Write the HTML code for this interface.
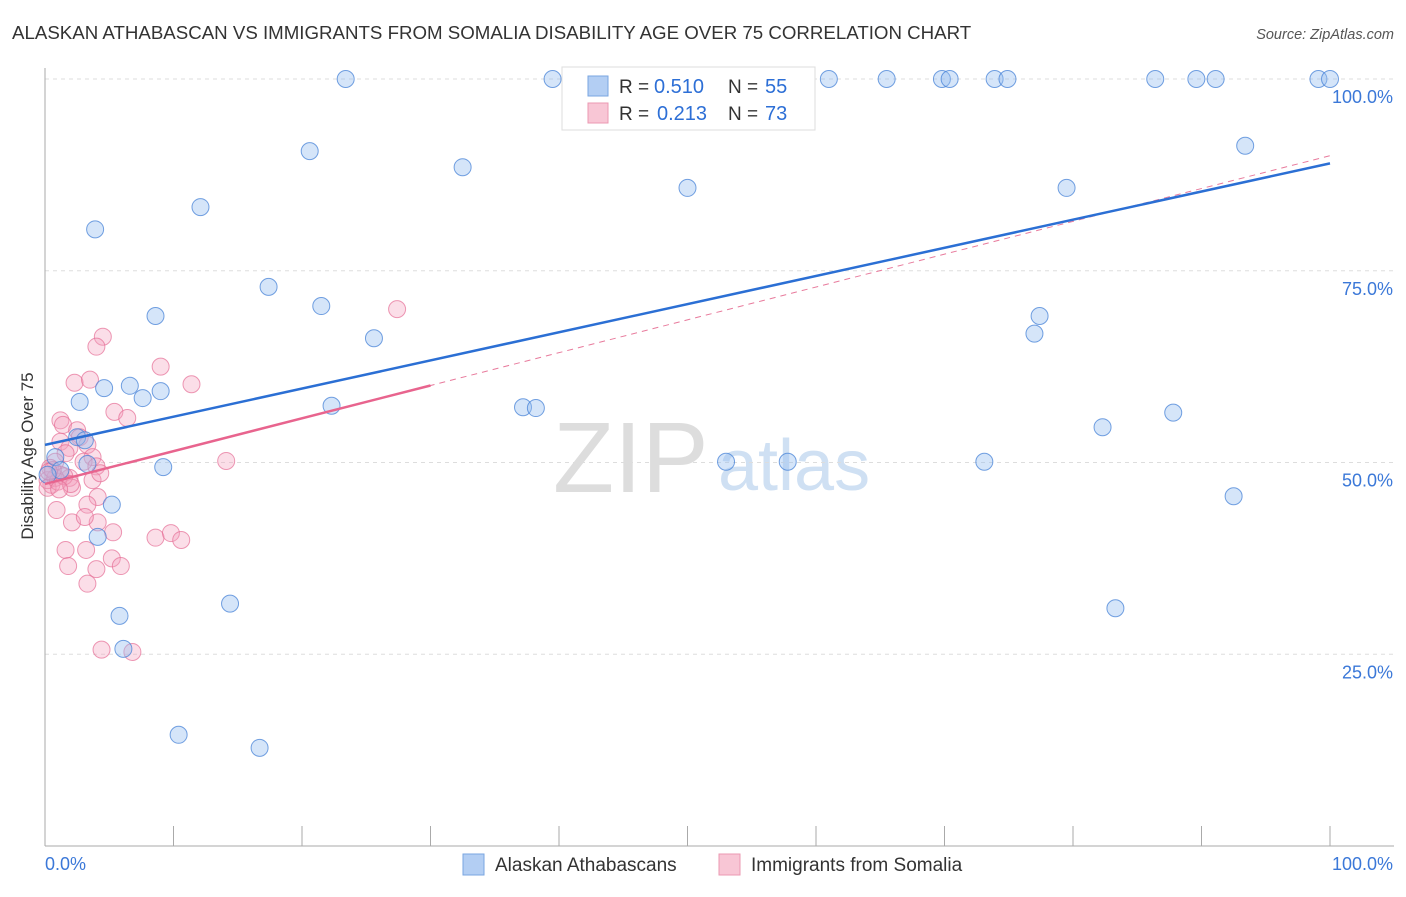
<!DOCTYPE html>
<html><head><meta charset="utf-8"><style>
body{margin:0;background:#fff;font-family:"Liberation Sans",sans-serif;}
svg text{font-family:"Liberation Sans",sans-serif;}
</style></head><body>
<svg id="c" width="1406" height="892">
<text x="12" y="39" font-size="18.7" fill="#333">ALASKAN ATHABASCAN VS IMMIGRANTS FROM SOMALIA DISABILITY AGE OVER 75 CORRELATION CHART</text>
<text x="1394" y="39" font-size="14.5" fill="#555" font-style="italic" text-anchor="end">Source: ZipAtlas.com</text>
<text x="553" y="492" font-size="100" fill="#ddd" font-family="Liberation Serif">ZIP</text>
<text x="718" y="490" font-size="72" fill="#cfe0f3">atlas</text>
<g id="grid"></g><g id="axes"></g><g id="marks"></g>
<text x="33" y="456" font-size="17" fill="#333" text-anchor="middle" transform="rotate(-90 33 456)">Disability Age Over 75</text>
<g>
<rect x="562" y="67" width="253" height="63" fill="#fff" stroke="#ddd"/>
<rect x="588" y="76" width="20" height="20" fill="#b3cef3" stroke="#7aa6e0"/>
<text x="619" y="93" font-size="19" fill="#333">R =</text>
<text x="654" y="93" font-size="20" fill="#2d6fd6">0.510</text>
<text x="728" y="93" font-size="19" fill="#333">N =</text>
<text x="765" y="93" font-size="20" fill="#2d6fd6">55</text>
<rect x="588" y="103" width="20" height="20" fill="#f8c6d5" stroke="#eb98b2"/>
<text x="619" y="120" font-size="19" fill="#333">R =</text>
<text x="657" y="120" font-size="20" fill="#2d6fd6">0.213</text>
<text x="728" y="120" font-size="19" fill="#333">N =</text>
<text x="765" y="120" font-size="20" fill="#2d6fd6">73</text>
</g>
<g>
<rect x="463" y="854" width="21" height="21" fill="#b3cef3" stroke="#7aa6e0"/>
<text x="495" y="871" font-size="19" fill="#333">Alaskan Athabascans</text>
<rect x="719" y="854" width="21" height="21" fill="#f8c6d5" stroke="#eb98b2"/>
<text x="751" y="871" font-size="19" fill="#333">Immigrants from Somalia</text>
</g>
</svg>
<script>
const blueX=[23.4,39.5,61.0,65.5,69.8,70.4,73.9,74.9,86.4,89.6,91.1,99.1,100,93.4,20.6,32.5,50.0,79.5,12.1,3.9,17.4,21.5,8.6,77.4,77.0,25.6,4.6,6.6,9.0,7.6,2.7,22.3,37.2,38.2,87.8,82.3,2.5,0.8,9.2,53.0,57.8,73.1,3.3,1.2,5.2,92.5,4.1,14.4,83.3,5.8,6.1,10.4,16.7,0.2,3.1];
const blueY=[100,100,100,100,100,100,100,100,100,100,100,100,100,91.3,90.6,88.5,85.8,85.8,83.3,80.4,72.9,70.4,69.1,69.1,66.8,66.2,59.7,60.0,59.3,58.4,57.9,57.4,57.2,57.1,56.5,54.6,53.3,50.7,49.4,50.1,50.1,50.1,49.8,49.0,44.5,45.6,40.3,31.6,31.0,30.0,25.7,14.5,12.8,48.4,52.9];
const pinkX=[27.4,4.5,4.0,9.0,2.3,3.5,11.4,5.4,6.4,1.2,1.4,2.5,2.7,3.3,1.2,1.9,1.6,3.7,0.8,3.0,4.0,14.1,0.4,1.2,1.9,0.5,2.1,3.7,4.3,4.1,3.3,0.9,2.1,4.1,3.1,5.3,8.6,9.8,10.6,1.6,3.2,5.2,1.8,4.0,5.9,3.3,4.4,6.8,0.2,0.8,0.2,1.0,1.5,0.6,2.0,0.3,1.1];
const pinkY=[70.0,66.4,65.1,62.5,60.4,60.8,60.2,56.6,55.8,55.5,54.9,54.2,53.3,52.3,52.7,51.9,51.2,50.7,50.1,50.1,49.5,50.2,49.3,48.4,48.0,47.1,46.7,47.7,48.6,45.5,44.5,43.8,42.2,42.2,42.9,40.9,40.2,40.8,39.9,38.6,38.6,37.5,36.5,36.1,36.5,34.2,25.6,25.3,47.7,48.0,46.7,47.5,48.2,49.0,47.2,48.8,46.5];
const yTicks=[25,50,75,100];
const yTickLabels=["25.0%","50.0%","75.0%","100.0%"];
const xTicks=[0,10,20,30,40,50,60,70,80,90,100];
const blueLine=[52.3,89.0];
const pinkLine=[47.2,90.0];
const ns="http://www.w3.org/2000/svg";
const X=v=>45+v*12.85, Y=v=>846-v*7.67;
function mk(t,a,p){const e=document.createElementNS(ns,t);for(const k in a)e.setAttribute(k,a[k]);document.getElementById(p).appendChild(e);return e;}
yTicks.forEach((t,i)=>{
 const g=mk('line',{x1:45,x2:1394,y1:Y(t),y2:Y(t),stroke:'#ddd','stroke-dasharray':'4 4'},'grid');
 
 
 const l=mk('text',{x:1393,y:Y(t)+24,'font-size':18,fill:'#3b78d8','text-anchor':'end'},'axes');
 l.textContent=yTickLabels[i];
 
 
});
const ya=mk('line',{x1:45,x2:45,y1:68,y2:846,stroke:'#aaa'},'axes');


const xa=mk('line',{x1:45,x2:1394,y1:846,y2:846,stroke:'#aaa'},'axes');


xTicks.forEach(t=>{
 const k=mk('line',{x1:X(t),x2:X(t),y1:826,y2:846,stroke:'#aaa'},'axes');
 
 
});
const x0=mk('text',{x:45,y:870,'font-size':18,fill:'#3b78d8'},'axes');x0.textContent='0.0%';


const x1=mk('text',{x:1393,y:870,'font-size':18,fill:'#3b78d8','text-anchor':'end'},'axes');x1.textContent='100.0%';


pinkX.forEach((v,i)=>{
 const c=mk('circle',{cx:X(v),cy:Y(pinkY[i]),r:8.5,fill:'rgba(244,160,188,0.35)',stroke:'rgba(230,110,150,0.7)','stroke-width':1},'marks');
 
 
});
blueX.forEach((v,i)=>{
 const c=mk('circle',{cx:X(v),cy:Y(blueY[i]),r:8.5,fill:'rgba(150,190,240,0.4)',stroke:'rgba(70,130,215,0.75)','stroke-width':1},'marks');
 
 
});
const pd=mk('line',{x1:X(0),y1:Y(pinkLine[0]),x2:X(100),y2:Y(pinkLine[1]),stroke:'#e87a9c','stroke-width':1,'stroke-dasharray':'6 5'},'marks');


const ps=mk('line',{x1:X(0),y1:Y(pinkLine[0]),x2:X(30),y2:Y(pinkLine[0]+(pinkLine[1]-pinkLine[0])*0.3),stroke:'#e8648e','stroke-width':2.5},'marks');


const bl=mk('line',{x1:X(0),y1:Y(blueLine[0]),x2:X(100),y2:Y(blueLine[1]),stroke:'#2b6fd4','stroke-width':2.5},'marks');


</script>
</body></html>
